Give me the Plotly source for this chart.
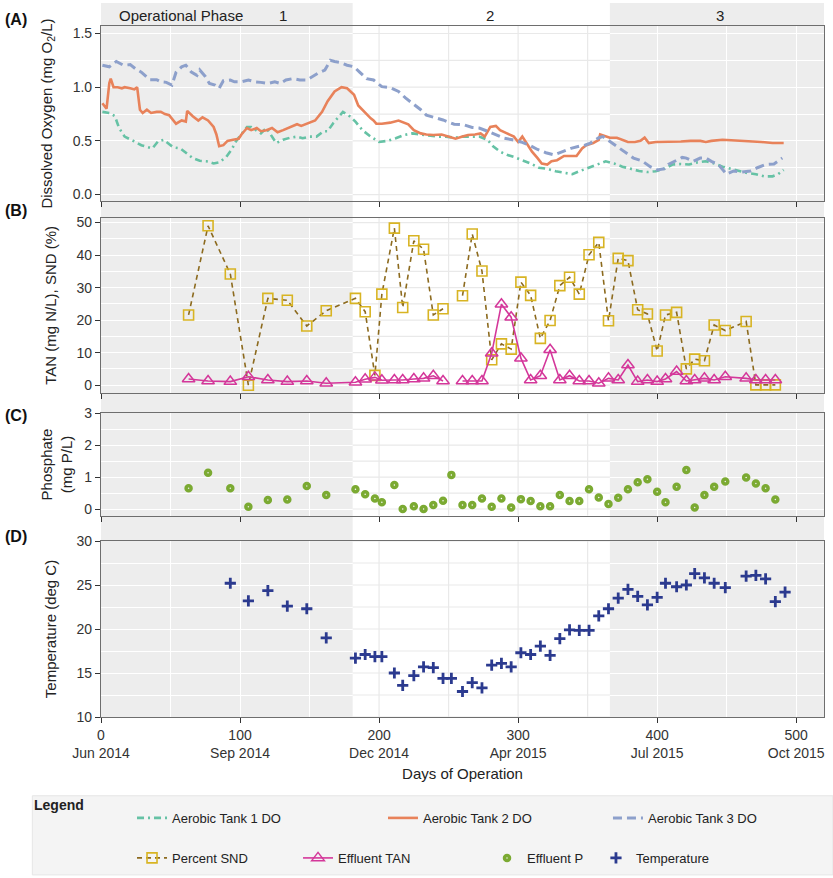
import plotly.graph_objects as go

# ---------------- data ----------------
# Panel A: dissolved oxygen (mg O2/L)
do1_days = [1, 6, 10, 13, 17, 21, 24, 29, 34, 37, 41, 45, 48, 52, 57, 61, 66, 71, 76, 81,
            85, 90, 94, 97, 101, 105, 108, 112, 115, 119, 123, 126, 131, 136, 141, 145, 150, 155, 160, 163,
            167, 171, 174, 178, 183, 188, 194, 200, 206, 212, 218, 224, 230, 236, 242, 248, 254, 260, 266, 272,
            278, 282, 287, 292, 297, 303, 309, 315, 321, 327, 333, 339, 344, 351, 357, 363, 369, 375, 381, 387,
            393, 399, 405, 411, 417, 423, 429, 435, 441, 447, 453, 459, 465, 471, 477, 483, 487, 491]
do1_vals = [0.77, 0.76, 0.73, 0.62, 0.54, 0.51, 0.495, 0.46, 0.44, 0.43, 0.495, 0.51, 0.48, 0.44, 0.43, 0.39, 0.34, 0.315, 0.31, 0.29,
            0.30, 0.35, 0.42, 0.495, 0.56, 0.63, 0.63, 0.60, 0.57, 0.62, 0.54, 0.48, 0.51, 0.53, 0.54, 0.525, 0.54, 0.54, 0.59, 0.59,
            0.665, 0.73, 0.77, 0.74, 0.68, 0.60, 0.54, 0.49, 0.50, 0.525, 0.555, 0.57, 0.56, 0.55, 0.54, 0.54, 0.53, 0.54, 0.54, 0.54,
            0.51, 0.45, 0.40, 0.37, 0.35, 0.32, 0.29, 0.25, 0.24, 0.217, 0.20, 0.19, 0.217, 0.25, 0.285, 0.31, 0.29, 0.26, 0.24, 0.22,
            0.21, 0.217, 0.24, 0.28, 0.285, 0.28, 0.30, 0.31, 0.29, 0.26, 0.24, 0.217, 0.20, 0.19, 0.17, 0.17, 0.19, 0.23]

do2_days = [1, 4, 6, 7, 9, 12, 15, 17, 21, 24, 26, 28, 30, 33, 36, 40, 43, 46, 49, 54,
            58, 61, 62, 66, 70, 73, 77, 81, 83, 85, 88, 91, 95, 99, 101, 105, 108, 112, 115, 119,
            123, 127, 131, 136, 141, 144, 149, 154, 159, 163, 168, 173, 177, 182, 185, 190, 194, 196, 198, 202,
            208, 214, 218, 221, 225, 230, 234, 239, 245, 250, 255, 260, 264, 269, 273, 276, 280, 284, 287, 292,
            297, 300, 303, 306, 310, 314, 317, 321, 324, 328, 333, 338, 342, 346, 349, 354, 358, 359, 363, 366,
            371, 375, 379, 384, 388, 391, 394, 399, 405, 411, 417, 424, 431, 435, 439, 447, 454, 461, 468, 475,
            483, 491]
do2_vals = [0.85, 0.80, 1.04, 1.08, 1.00, 1.00, 0.99, 1.00, 0.99, 0.98, 1.00, 0.79, 0.76, 0.79, 0.76, 0.77, 0.77, 0.75, 0.74, 0.66,
            0.69, 0.68, 0.78, 0.73, 0.69, 0.72, 0.69, 0.63, 0.56, 0.45, 0.46, 0.50, 0.51, 0.52, 0.56, 0.62, 0.60, 0.62, 0.59, 0.60,
            0.62, 0.58, 0.60, 0.63, 0.655, 0.64, 0.665, 0.69, 0.77, 0.87, 0.96, 1.00, 0.99, 0.93, 0.83, 0.76, 0.71, 0.69, 0.66, 0.66,
            0.67, 0.69, 0.67, 0.655, 0.60, 0.57, 0.56, 0.555, 0.56, 0.54, 0.52, 0.54, 0.555, 0.56, 0.57, 0.54, 0.63, 0.64, 0.60, 0.57,
            0.54, 0.49, 0.54, 0.48, 0.40, 0.34, 0.29, 0.28, 0.31, 0.32, 0.36, 0.36, 0.36, 0.43, 0.46, 0.48, 0.51, 0.56, 0.54, 0.53,
            0.53, 0.51, 0.49, 0.49, 0.50, 0.53, 0.48, 0.49, 0.49, 0.49, 0.495, 0.50, 0.50, 0.49, 0.50, 0.51, 0.505, 0.50, 0.50, 0.49,
            0.48, 0.48]

do3_days = [1, 6, 11, 16, 21, 25, 29, 35, 40, 43, 47, 51, 54, 58, 61, 65, 69, 71, 75, 78,
            82, 85, 88, 93, 96, 101, 106, 111, 115, 120, 125, 129, 133, 138, 143, 148, 151, 156, 161, 165,
            168, 172, 177, 182, 186, 191, 196, 202, 208, 214, 219, 224, 230, 234, 240, 246, 254, 261, 267, 272,
            278, 284, 290, 296, 302, 308, 314, 320, 326, 332, 338, 344, 348, 352, 358, 361, 366, 371, 377, 383,
            389, 395, 400, 405, 408, 413, 418, 421, 426, 431, 435, 439, 444, 450, 455, 461, 467, 472, 478, 484, 490]
do3_vals = [1.205, 1.19, 1.24, 1.205, 1.21, 1.17, 1.14, 1.07, 1.07, 1.05, 1.045, 1.02, 1.14, 1.19, 1.205, 1.14, 1.11, 1.16, 1.10, 1.035,
            1.02, 0.99, 1.06, 1.067, 1.05, 1.05, 1.067, 1.05, 1.045, 1.035, 1.05, 1.035, 1.067, 1.08, 1.067, 1.067, 1.09, 1.13, 1.16, 1.25,
            1.24, 1.23, 1.205, 1.19, 1.14, 1.08, 1.067, 1.005, 0.996, 0.96, 0.90, 0.85, 0.79, 0.74, 0.72, 0.695, 0.655, 0.65, 0.625, 0.62,
            0.59, 0.556, 0.525, 0.51, 0.49, 0.46, 0.42, 0.39, 0.37, 0.40, 0.43, 0.45, 0.46, 0.48, 0.53, 0.54, 0.495, 0.45, 0.39, 0.34,
            0.315, 0.26, 0.23, 0.24, 0.28, 0.31, 0.346, 0.34, 0.31, 0.34, 0.34, 0.31, 0.28, 0.19, 0.22, 0.21, 0.22, 0.25, 0.28, 0.285, 0.34]

# Panels B-D: grab-sample days
sample_days = [63, 77, 93, 106, 120, 134, 148, 162, 183, 190, 197, 202, 211, 217, 225, 232, 239, 246, 252, 260,
               267, 274, 281, 288, 295, 302, 309, 316, 323, 330, 337, 344, 351, 358, 365, 372, 379, 386, 393, 400,
               406, 414, 421, 427, 434, 441, 449, 464, 471, 478, 485, 492]
snd_pct = [21.6, 49.0, 34.2, 0.0, 26.7, 26.1, 18.2, 22.9, 26.7, 22.6, 3.0, 28.0, 48.3, 23.9, 44.4, 41.8, 21.6, 23.5, None, 27.5,
           46.5, 35.1, 7.8, 12.7, 11.1, 31.7, 27.6, 14.4, 19.9, 30.6, 33.2, 28.0, 40.1, 43.9, 19.8, 39.0, 38.3, 23.2, 21.9, 10.5,
           21.6, 22.4, 5.0, 8.0, 7.5, 18.5, 16.8, 19.6, 0.1, 0.1, 0.1, None]
eff_tan = [1.9, 1.3, 1.1, 2.6, 1.6, 1.1, 1.3, 0.6, 0.9, 1.8, 2.4, 1.5, 1.6, 1.6, 1.9, 2.1, 2.9, 1.3, None, 1.3,
           1.3, 1.3, 9.8, 24.9, 20.9, 8.3, 1.6, 2.9, 10.9, 1.6, 2.9, 1.3, 1.3, 0.6, 2.1, 1.6, 6.2, 1.1, 1.6, 1.1,
           1.9, 4.2, 1.3, 1.6, 2.1, 1.6, 2.6, 2.1, 1.6, 1.6, 1.6, None]
eff_p = [0.65, 1.14, 0.65, 0.07, 0.28, 0.30, 0.72, 0.44, 0.62, 0.46, 0.33, 0.21, 0.75, 0.0, 0.09, 0.0, 0.125, 0.26, 1.07, 0.125,
         0.125, 0.33, 0.07, 0.33, 0.05, 0.31, 0.25, 0.09, 0.09, 0.44, 0.25, 0.25, 0.62, 0.36, 0.16, 0.35, 0.62, 0.84, 0.93, 0.54,
         0.21, 0.70, 1.22, 0.05, 0.44, 0.70, 0.86, 0.99, 0.80, 0.65, 0.30, None]
temp_c = [None, None, 25.2, 23.2, 24.35, 22.6, 22.3, 19.0, 16.7, 17.1, 16.85, 16.85, 15.0, 13.6, 14.7, 15.7, 15.6, 14.4, 14.4, 12.9,
          13.9, 13.3, 15.9, 16.1, 15.7, 17.3, 17.1, 18.05, 17.0, 18.9, 19.9, 19.85, 19.85, 21.5, 22.3, 23.5, 24.5, 23.7, 22.75, 23.6,
          25.2, 24.8, 25.0, 26.3, 25.8, 25.2, 24.7, 26.0, 26.1, 25.7, 23.1, 24.2]

phase_bounds = [0, 181, 366, 520]
phase_names = ["1", "2", "3"]
x_ticks = [0, 100, 200, 300, 400, 500]
x_tick_labels = ["0<br>Jun 2014", "100<br>Sep 2014", "200<br>Dec 2014", "300<br>Apr 2015",
                 "400<br>Jul 2015", "500<br>Oct 2015"]

# ---------------- styling ----------------
FONT = "Liberation Sans, Arial, Helvetica, sans-serif"
C_T1, C_T2, C_T3 = "#66C2A5", "#E8825A", "#8DA0CB"
C_SNDM, C_SNDL = "#D8B423", "#8C6A1E"
C_TAN, C_P, C_TEMP = "#D4379A", "#7BAA32", "#2B3A8F"
SHADE = "#EDEDED"
GRID_ON_SHADE = "#FFFFFF"
GRID_ON_WHITE = "#E9E9E9"

panel_axes = [("x", "y", [-0.06, 1.57], [i * 0.25 for i in range(7)]),
              ("x2", "y2", [-2.4, 51.5], [i * 5 for i in range(11)]),
              ("x3", "y3", [-0.21, 3.0], [i * 0.5 for i in range(7)]),
              ("x4", "y4", [10, 30], [10 + i * 2.5 for i in range(9)])]

fig = go.Figure()

# grey grid lines inside the unshaded phase-2 band (white axis grid elsewhere), drawn under the data
xgrid_vals = [v for v in range(0, 521, 50) if phase_bounds[1] < v < phase_bounds[2]]
for xr, yr, yrange, yvals in panel_axes:
    gx, gy = [], []
    for yv in yvals:
        gx += [phase_bounds[1], phase_bounds[2], None]
        gy += [yv, yv, None]
    for xv in xgrid_vals:
        gx += [xv, xv, None]
        gy += [yrange[0], yrange[1], None]
    fig.add_trace(go.Scatter(x=gx, y=gy, mode="lines", line=dict(color=GRID_ON_WHITE, width=1.2),
                             hoverinfo="skip", showlegend=False, xaxis=xr, yaxis=yr))

fig.add_trace(go.Scatter(x=do1_days, y=do1_vals, mode="lines", name="Aerobic Tank 1 DO",
                         line=dict(color=C_T1, width=2.6, dash="7px,4px,2px,4px"),
                         xaxis="x", yaxis="y", legend="legend"))
fig.add_trace(go.Scatter(x=do2_days, y=do2_vals, mode="lines", name="Aerobic Tank 2 DO",
                         line=dict(color=C_T2, width=2.6),
                         xaxis="x", yaxis="y", legend="legend2"))
fig.add_trace(go.Scatter(x=do3_days, y=do3_vals, mode="lines", name="Aerobic Tank 3 DO",
                         line=dict(color=C_T3, width=3, dash="9px,5px"),
                         xaxis="x", yaxis="y", legend="legend3"))

fig.add_trace(go.Scatter(x=sample_days, y=snd_pct, mode="lines+markers", name="Percent SND",
                         line=dict(color=C_SNDL, width=1.6, dash="5px,4px"),
                         marker=dict(symbol="square-open", size=10, color=C_SNDM, line=dict(width=1.6, color=C_SNDM)),
                         connectgaps=False, xaxis="x2", yaxis="y2", legend="legend4"))
fig.add_trace(go.Scatter(x=sample_days, y=eff_tan, mode="lines+markers", name="Effluent TAN",
                         line=dict(color=C_TAN, width=1.6),
                         marker=dict(symbol="triangle-up-open", size=11, color=C_TAN, line=dict(width=1.5, color=C_TAN)),
                         connectgaps=False, xaxis="x2", yaxis="y2", legend="legend5"))

fig.add_trace(go.Scatter(x=sample_days, y=eff_p, mode="markers", name="Effluent P",
                         marker=dict(symbol="circle-open", size=5, color=C_P, line=dict(width=3.5, color=C_P)),
                         xaxis="x3", yaxis="y3", legend="legend6"))

fig.add_trace(go.Scatter(x=sample_days, y=temp_c, mode="markers", name="Temperature",
                         marker=dict(symbol="cross-thin", size=8, color=C_TEMP, line=dict(width=2.8, color=C_TEMP)),
                         xaxis="x4", yaxis="y4", legend="legend7"))

# phase shading (behind grid)
for i in (0, 2):
    fig.add_shape(type="rect", xref="x", yref="paper", x0=phase_bounds[i], x1=phase_bounds[i + 1],
                  y0=0, y1=1.0333, fillcolor=SHADE, line=dict(width=0), layer="below")

# legend background box
fig.add_shape(type="rect", xref="paper", yref="paper", x0=-0.095, x1=1.0124, y0=-0.2285, y1=-0.114,
              fillcolor="#F4F4F4", line=dict(color="#E6E6E6", width=1), layer="below")

common_x = dict(range=[0, 520], tickvals=x_ticks, showline=True, mirror=True, linecolor="#6E6E6E",
                linewidth=1.2, ticks="outside", ticklen=5, tickcolor="#333333", tickwidth=1.2,
                showgrid=True, gridcolor=GRID_ON_SHADE, gridwidth=1.2, zeroline=False, automargin=False,
                minor=dict(dtick=50, showgrid=True, gridcolor=GRID_ON_SHADE, gridwidth=1.2),
                tickfont=dict(family=FONT, size=14, color="#333333"))
common_y = dict(showline=True, mirror=True, linecolor="#6E6E6E", linewidth=1.2, ticks="outside",
                ticklen=5, tickcolor="#333333", tickwidth=1.2, showgrid=True, gridcolor=GRID_ON_SHADE,
                gridwidth=1.2, zeroline=False, automargin=False,
                tickfont=dict(family=FONT, size=14, color="#333333"))

doms = {"A": [0.7467, 1.0], "B": [0.4689, 0.7226], "C": [0.2913, 0.4395], "D": [0.0, 0.2547]}
ttl_font = dict(family=FONT, size=15, color="#222")

fig.update_layout(
    width=833, height=878,
    margin=dict(l=101, r=9, t=26, b=161, autoexpand=False),
    paper_bgcolor="white", plot_bgcolor="rgba(0,0,0,0)",
    font=dict(family=FONT, size=14, color="#222222"),
    xaxis=dict(common_x, anchor="y", showticklabels=False),
    xaxis2=dict(common_x, anchor="y2", matches="x", showticklabels=False),
    xaxis3=dict(common_x, anchor="y3", matches="x", showticklabels=False),
    xaxis4=dict(common_x, anchor="y4", matches="x", ticktext=x_tick_labels,
                title=dict(text="Days of Operation", standoff=8, font=ttl_font)),
    yaxis=dict(common_y, domain=doms["A"], anchor="x", range=panel_axes[0][2], tickvals=[0, 0.5, 1.0, 1.5],
               ticktext=["0.0", "0.5", "1.0", "1.5"],
               minor=dict(dtick=0.25, showgrid=True, gridcolor=GRID_ON_SHADE, gridwidth=1.2),
               title=dict(text="Dissolved Oxygen (mg O<sub>2</sub>/L)", standoff=16, font=ttl_font)),
    yaxis2=dict(common_y, domain=doms["B"], anchor="x2", range=panel_axes[1][2], tickvals=[0, 10, 20, 30, 40, 50],
                minor=dict(dtick=5, showgrid=True, gridcolor=GRID_ON_SHADE, gridwidth=1.2),
                title=dict(text="TAN (mg N/L), SND (%)", standoff=16, font=ttl_font)),
    yaxis3=dict(common_y, domain=doms["C"], anchor="x3", range=panel_axes[2][2], tickvals=[0, 1, 2, 3],
                minor=dict(dtick=0.5, showgrid=True, gridcolor=GRID_ON_SHADE, gridwidth=1.2),
                title=dict(text="Phosphate<br>(mg P/L)", standoff=8, font=ttl_font)),
    yaxis4=dict(common_y, domain=doms["D"], anchor="x4", range=panel_axes[3][2], tickvals=[10, 15, 20, 25, 30],
                minor=dict(dtick=2.5, showgrid=True, gridcolor=GRID_ON_SHADE, gridwidth=1.2),
                title=dict(text="Temperature (deg C)", standoff=16, font=ttl_font)),
    showlegend=True,
)

# individual legends laid out as in the reference (two rows)
leg_font = dict(family=FONT, size=13, color="#222222")
row1_y, row2_y = -0.1461, -0.2040
leg_pos = {"legend": (0.0429, row1_y), "legend2": (0.3900, row1_y), "legend3": (0.7012, row1_y),
           "legend4": (0.0429, row2_y), "legend5": (0.2725, row2_y), "legend6": (0.5339, row2_y),
           "legend7": (0.6846, row2_y)}
for k, (lx, ly) in leg_pos.items():
    fig.update_layout({k: dict(x=lx, y=ly, xanchor="left", yanchor="middle", orientation="h",
                               bgcolor="rgba(0,0,0,0)", borderwidth=0, font=leg_font, itemwidth=30)})

# annotations: panel letters, phase labels, legend title
ann = []
for lab, yy in [("(A)", 1.0087), ("(B)", 0.7337), ("(C)", 0.437), ("(D)", 0.2605)]:
    ann.append(dict(text="<b>%s</b>" % lab, xref="paper", yref="paper", x=-0.1355, y=yy,
                    xanchor="left", yanchor="middle", showarrow=False,
                    font=dict(family=FONT, size=16, color="#111")))
ann.append(dict(text="Operational Phase", xref="x", yref="paper", x=57.6, y=1.0145, showarrow=False,
                xanchor="center", yanchor="middle", font=ttl_font))
for name, xx in zip(phase_names, [131, 280, 445]):
    ann.append(dict(text=name, xref="x", yref="paper", x=xx, y=1.0145, showarrow=False,
                    xanchor="center", yanchor="middle", font=ttl_font))
ann.append(dict(text="<b>Legend</b>", xref="paper", yref="paper", x=-0.0207, y=-0.1273, showarrow=False,
                xanchor="right", yanchor="middle", font=dict(family=FONT, size=14, color="#222")))
fig.update_layout(annotations=ann)

# remove the browser's default 8px body margin so the figure sits at the page origin
fig.write_html("out.html", config={"displayModeBar": False},
               post_script="document.body.style.margin='0px';")
